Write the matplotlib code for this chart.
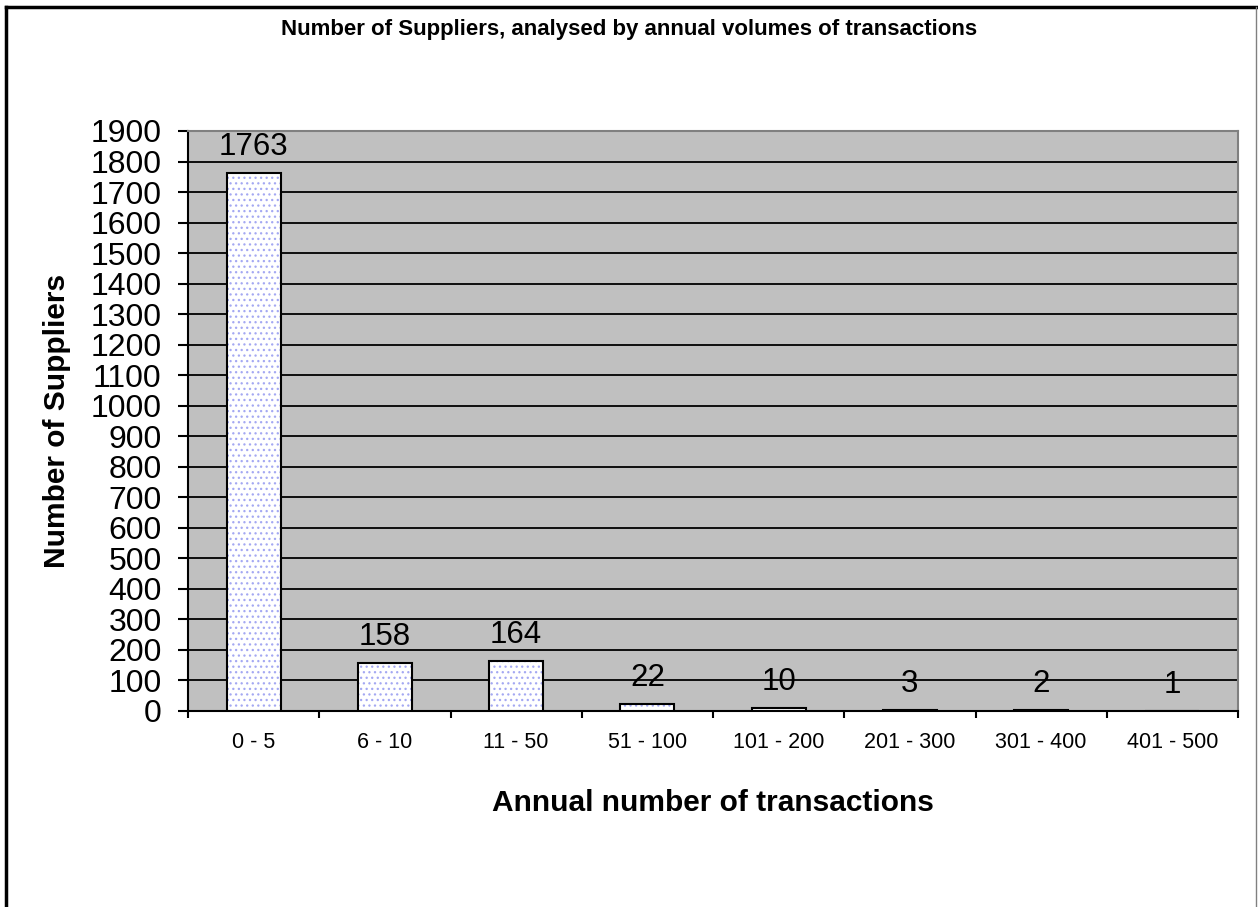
import matplotlib.pyplot as plt
from matplotlib.lines import Line2D
import numpy as np

categories = ['0 - 5', '6 - 10', '11 - 50', '51 - 100', '101 - 200',
              '201 - 300', '301 - 400', '401 - 500']
suppliers = [1763, 158, 164, 22, 10, 3, 2, 1]

plt.rcParams['font.family'] = ['Liberation Sans', 'DejaVu Sans']
plt.rcParams['hatch.linewidth'] = 0.9

fig = plt.figure(figsize=(12.58, 9.07), dpi=100)
ax = fig.add_axes([188 / 1258, 1 - 711 / 907, 1050 / 1258, 580 / 907])
ax.set_facecolor('#c0c0c0')

x = np.arange(len(categories))
# dotted fill first, then black outline on top
ax.bar(x, suppliers, width=0.41, color='white', edgecolor='#a4a8f2',
       hatch='...', linewidth=0, zorder=3)
ax.bar(x, suppliers, width=0.41, fill=False, edgecolor='black',
       linewidth=1.5, zorder=4)

for xi, v in zip(x, suppliers):
    ax.annotate(str(v), (xi, v), xytext=(0, 13), textcoords='offset points',
                ha='center', va='baseline', fontsize=22.5, zorder=5)

ax.set_xlim(-0.5, len(categories) - 0.5)
ax.set_ylim(0, 1900)
ax.set_yticks(range(0, 2000, 100))
ax.set_xticks(x)
ax.set_xticklabels(categories, fontsize=15.5)
ax.set_xticks(np.arange(-0.5, len(categories)), minor=True)
ax.tick_params(axis='x', which='major', length=0, pad=15)
ax.tick_params(axis='x', which='minor', length=5, width=1.5, direction='out')
ax.tick_params(axis='y', labelsize=23, length=7, width=1.5, pad=12)

for yv in range(100, 1900, 100):
    ax.axhline(yv, color='black', linewidth=1.3, zorder=1)

for side in ['left', 'bottom']:
    ax.spines[side].set_color('black')
    ax.spines[side].set_linewidth(1.5)
for side in ['top', 'right']:
    ax.spines[side].set_color('#808080')
    ax.spines[side].set_linewidth(1.5)

ax.set_xlabel('Annual number of transactions', fontsize=21.5, fontweight='bold',
              labelpad=26)
ax.set_ylabel('Number of Suppliers', fontsize=21.5, fontweight='bold',
              labelpad=14)
fig.text(0.5, 1 - 30 / 907, 'Number of Suppliers, analysed by annual volumes of transactions',
         ha='center', va='center', fontsize=16, fontweight='bold')

# outer chart border
fig.add_artist(Line2D([6 / 1258, 6 / 1258], [0, 1 - 7 / 907], color='black', linewidth=2.5))
fig.add_artist(Line2D([6 / 1258, 1256 / 1258], [1 - 7 / 907, 1 - 7 / 907], color='black', linewidth=2.5))
fig.add_artist(Line2D([1256 / 1258, 1256 / 1258], [0, 1 - 7 / 907], color='#808080', linewidth=1))

fig.savefig('out.png', dpi=100)
